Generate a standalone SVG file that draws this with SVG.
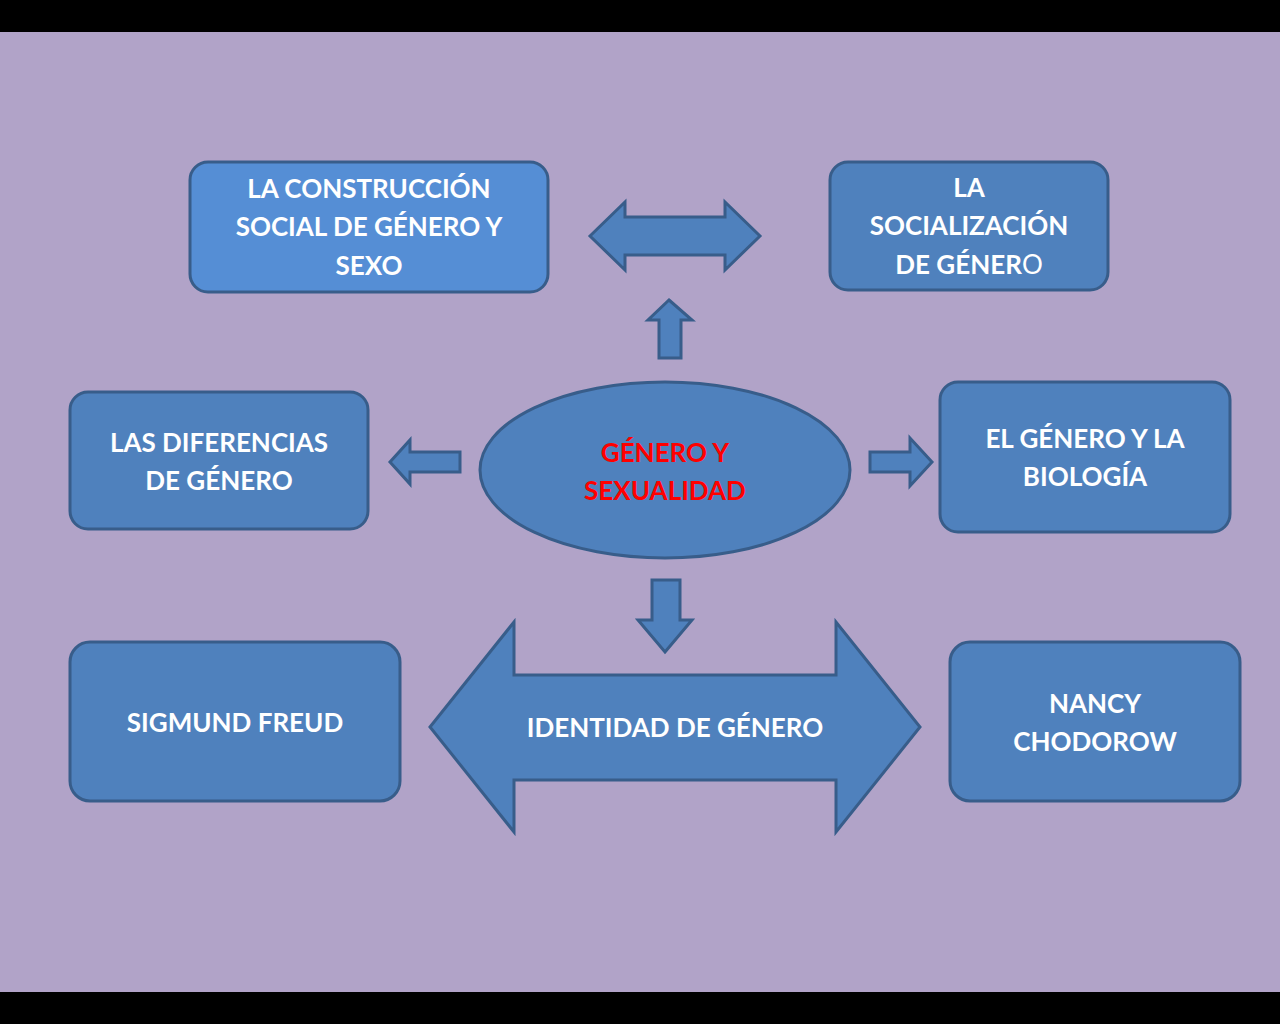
<svg xmlns="http://www.w3.org/2000/svg" width="1280" height="1024" viewBox="0 0 1280 1024">
<style>
.b{fill:#4F81BD;stroke:#385D8A;stroke-width:3}
.t{font-family:Lato,"Open Sans","Liberation Sans",sans-serif;font-weight:bold;font-size:26px;fill:#fff;text-anchor:middle}
</style>
<rect width="1280" height="1024" fill="#000"/>
<rect y="32" width="1280" height="960" fill="#B1A3C8"/>
<g id="connectors">
<path class="b" d="M590,236 L625,202 L625,217 L725,217 L725,202 L760,236 L725,270 L725,255 L625,255 L625,270 Z"/>
<path class="b" d="M669,300 L692,320 L681,320 L681,358 L659,358 L659,320 L648,320 Z"/>
<path class="b" d="M390,462 L410,440 L410,452 L460,452 L460,472 L410,472 L410,484 Z"/>
<path class="b" d="M932,462 L910,438 L910,452 L870,452 L870,472 L910,472 L910,486 Z"/>
<path class="b" d="M665,652 L692,620 L680,620 L680,580 L652,580 L652,620 L638,620 Z"/>
<path class="b" d="M430,727 L514,622 L514,675 L836,675 L836,622 L920,727 L836,832 L836,780 L514,780 L514,832 Z"/>
<text class="t" x="675" y="737">IDENTIDAD DE GÉNERO</text>
</g>
<g id="n1"><rect class="b" x="190" y="162" width="358" height="130" rx="18" style="fill:#558ED5"/>
<text class="t" x="369" y="198">LA CONSTRUCCIÓN</text><text class="t" x="369" y="236">SOCIAL DE GÉNERO Y</text><text class="t" x="369" y="275">SEXO</text></g>
<g id="n2"><rect class="b" x="830" y="162" width="278" height="128" rx="18"/>
<text class="t" x="969" y="197">LA</text><text class="t" x="969" y="235">SOCIALIZACIÓN</text><text class="t" x="969" y="274">DE GÉNER<tspan font-weight="normal">O</tspan></text></g>
<g id="n3"><rect class="b" x="70" y="392" width="298" height="137" rx="18"/>
<text class="t" x="219" y="452">LAS DIFERENCIAS</text><text class="t" x="219" y="490">DE GÉNERO</text></g>
<g id="n4"><rect class="b" x="940" y="382" width="290" height="150" rx="18"/>
<text class="t" x="1085" y="448">EL  GÉNERO Y LA</text><text class="t" x="1085" y="486">BIOLOGÍA</text></g>
<g id="center"><ellipse class="b" cx="665" cy="470" rx="185" ry="88"/>
<text class="t" x="665" y="462" style="fill:#FF0000">GÉNERO Y</text><text class="t" x="665" y="500" style="fill:#FF0000">SEXUALIDAD</text></g>
<g id="n5"><rect class="b" x="70" y="642" width="330" height="159" rx="20"/>
<text class="t" x="235" y="732">SIGMUND FREUD</text></g>
<g id="n6"><rect class="b" x="950" y="642" width="290" height="159" rx="20"/>
<text class="t" x="1095" y="713">NANCY</text><text class="t" x="1095" y="751">CHODOROW</text></g>
</svg>
